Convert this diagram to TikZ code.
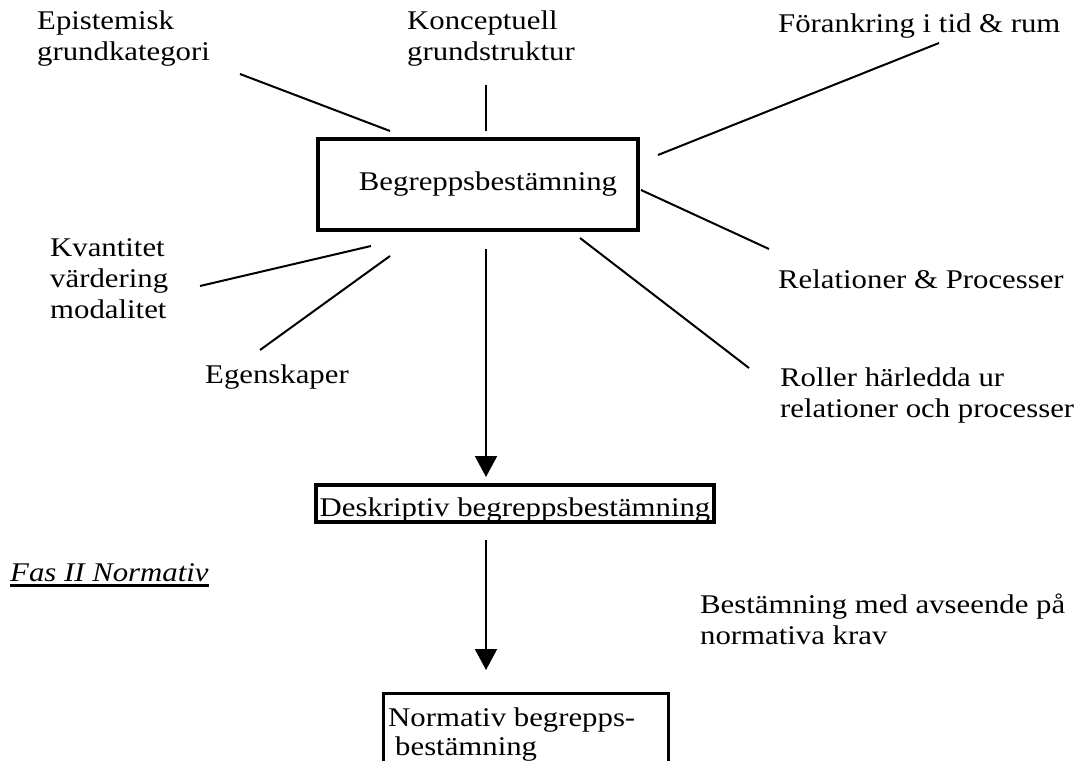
\documentclass[tikz,border=0pt]{standalone}
\usepackage{fontspec}
\setmainfont{Liberation Serif}[FakeStretch=1.14]
\usetikzlibrary{arrows.meta}
\newcommand\mylines[1]{\vtop{\baselineskip=31pt\lineskiplimit=-20pt\halign{##\hfil\cr#1\crcr}}}
\newcommand\mylinesB[1]{\vtop{\baselineskip=29pt\lineskiplimit=-20pt\halign{##\hfil\cr#1\crcr}}}
\begin{document}
\begin{tikzpicture}[x=1pt,y=-1pt,
  every node/.style={font=\fontsize{27pt}{31pt}\selectfont},
  lbl/.style={anchor=base west, inner sep=0pt},
  con/.style={line width=2pt},
  arr/.style={line width=2pt, -{Triangle[width=22pt,length=21pt]}},
  boxA/.style={draw, line width=3.6pt},
  boxB/.style={draw, line width=3.2pt}]
\useasboundingbox (0,0) rectangle (1078,760);
\fill[white] (0,0) rectangle (1078,760);

% top labels
\node[lbl] (epi) at (37,30) {\mylines{Epistemisk\cr grundkategori}};
\node[lbl] (kon) at (407,30) {\mylines{Konceptuell\cr grundstruktur}};
\node[lbl] (for) at (778,33) {Förankring i tid \& rum};

% main box
\node[boxA, minimum width=320pt, minimum height=91pt, inner sep=0pt] (beg) at (478,184.5) {\hspace*{20pt}Begreppsbestämning};

% side labels
\node[lbl] (kva) at (50,256) {\mylines{Kvantitet\cr värdering\cr modalitet}};
\node[lbl] (ege) at (205,383) {Egenskaper};
\node[lbl] (rel) at (778,288) {Relationer \& Processer};
\node[lbl] (rol) at (780,386) {\mylines{Roller härledda ur\cr relationer och processer}};

% connector end points
\coordinate (c1a) at (240,74);  \coordinate (c1b) at (390,131);
\coordinate (c2a) at (486,85);  \coordinate (c2b) at (486,131);
\coordinate (c3a) at (658,155); \coordinate (c3b) at (939,43);
\coordinate (c4a) at (200,286); \coordinate (c4b) at (371,246);
\coordinate (c5a) at (260,350); \coordinate (c5b) at (390,256);
\coordinate (c6a) at (641,190); \coordinate (c6b) at (769,249);
\coordinate (c7a) at (580,238); \coordinate (c7b) at (749,368);

\draw[con] (c1a) -- (c1b);
\draw[con] (c2a) -- (c2b);
\draw[con] (c3a) -- (c3b);
\draw[con] (c4a) -- (c4b);
\draw[con] (c5a) -- (c5b);
\draw[con] (c6a) -- (c6b);
\draw[con] (c7a) -- (c7b);

% descriptive box
\node[boxB, minimum width=398pt, text height=31pt, text depth=6pt, inner ysep=0pt, inner xsep=0pt, anchor=base] (desk) at (515,516) {Deskriptiv begreppsbestämning};

\coordinate (a1a) at (486,249); \coordinate (a1b) at (486,477);
\draw[arr] (a1a) -- (a1b);

% Fas II
\node[lbl, font=\fontsize{27pt}{31pt}\selectfont\itshape] (fas) at (10,581) {Fas II Normativ};
\draw[line width=2.4pt] ([yshift=-4.5pt]fas.base west) -- ([yshift=-4.5pt]fas.base east);

\coordinate (a2a) at (486,540); \coordinate (a2b) at (486,670);
\draw[arr] (a2a) -- (a2b);

\node[lbl] (bes) at (700,613) {\mylines{Bestämning med avseende på\cr normativa krav}};

% normative box (cut at page bottom)
\begin{scope}
\clip (0,0) rectangle (1078,760);
\node[boxB, anchor=north west, minimum width=285pt, minimum height=100pt, inner sep=0pt] (norm) at (382,692) {};
\node[lbl] (normt) at (388,726) {\mylinesB{Normativ begrepps-\cr\hspace*{7pt}bestämning}};
\end{scope}
\end{tikzpicture}
\end{document}
